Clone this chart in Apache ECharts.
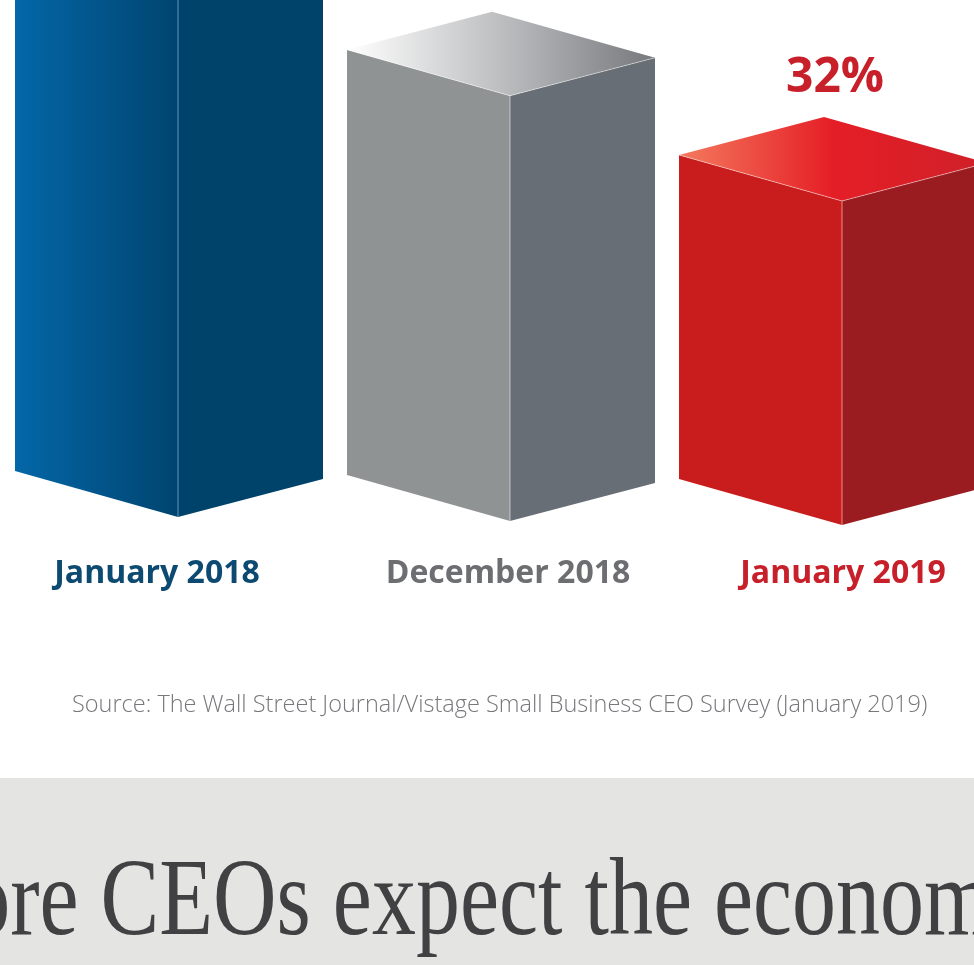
<!DOCTYPE html>
<html>
<head>
<meta charset="utf-8">
<title>Small Business CEO Survey</title>
<script src="https://cdn.jsdelivr.net/npm/echarts@6/dist/echarts.min.js"></script>
<style>
  html, body { margin: 0; padding: 0; background: #ffffff; }
  #chart { width: 974px; height: 965px; }
</style>
</head>
<body>
<div id="chart"></div>
<script>
// Survey periods and the share of CEOs (percent) for each one
const categories = ['January 2018', 'December 2018', 'January 2019'];
const shares = [57, 42, 32];
const sourceNote = 'Source: The Wall Street Journal/Vistage Small Business CEO Survey (January 2019)';
const bannerHeadline = 'More CEOs expect the economy';

// Box geometry (pixels): front face width, side face width, and the
// drop/rise of the bottom edges that give the isometric look.
const FRONT_W = 163;
const SIDE_W = 145;
const FRONT_DROP = 46;
const SIDE_RISE = 38;
const TILT = 0.012;

const palette = [
  { label: '#0d4a72', front: ['#0467a8', '#00446f'], side: '#00436a',
    top: ['#1a74b2', '#005a93', '#00446e'], edge: 'rgba(120,170,210,0.8)' },
  { label: '#6d6e71', front: ['#909394', '#909394'], side: '#686e75',
    top: ['#ffffff', '#bdbec0', '#77787c'], edge: 'rgba(255,255,255,0.55)' },
  { label: '#c8202a', front: ['#c91c1c', '#c91c1c'], side: '#9b1c20',
    top: ['#f47a5e', '#e51e26', '#cf2029'], edge: 'rgba(255,190,180,0.7)' }
];

function hGrad(stops) {
  return new echarts.graphic.LinearGradient(0, 0, 1, 0,
    stops.map(function (c, k) { return { offset: k / (stops.length - 1), color: c }; }));
}

// Draws one isometric box per survey period, sized by the y scale.
function renderBox(params, api) {
  const i = params.dataIndex;
  const v = api.value(1);
  const origin = api.coord([api.value(0), 0]);
  const first = api.coord([0, 0]);
  const unit = api.size([0, 1])[1];
  const cx = origin[0];
  const by = origin[1] + (cx - first[0]) * TILT;
  const h = v * unit;
  const c = palette[i];
  const L = cx - FRONT_W;
  const R = cx + SIDE_W;
  const topY = by - h;

  const front = [[L, by - FRONT_DROP], [cx, by], [cx, topY], [L, topY - FRONT_DROP]];
  const side = [[cx, by], [R, by - SIDE_RISE], [R, topY - SIDE_RISE], [cx, topY]];
  const backX = L + (R - cx);
  const backY = topY - FRONT_DROP - SIDE_RISE;
  const top = [[L, topY - FRONT_DROP], [cx, topY], [R, topY - SIDE_RISE], [backX, backY]];

  return {
    type: 'group',
    children: [
      { type: 'polygon', shape: { points: front }, style: { fill: hGrad(c.front) } },
      { type: 'polygon', shape: { points: side }, style: { fill: c.side } },
      { type: 'polygon', shape: { points: top }, style: { fill: hGrad(c.top) } },
      { type: 'polyline', shape: { points: [[cx, by], [cx, topY]] },
        style: { stroke: c.edge, lineWidth: 1, fill: null } },
      { type: 'polyline', shape: { points: [[L, topY - FRONT_DROP], [cx, topY], [R, topY - SIDE_RISE]] },
        style: { stroke: 'rgba(255,255,255,0.45)', lineWidth: 1, fill: null } },
      { type: 'text', x: backX + 11, y: backY - 39,
        style: { text: v + '%', fill: c.label, fontSize: 48, fontWeight: 'bold',
                 fontFamily: 'Open Sans', align: 'center', verticalAlign: 'middle' } }
    ]
  };
}

const labelRich = {};
const labelShift = [42, 4, -2];
palette.forEach(function (c, k) {
  labelRich['c' + k] = {
    color: c.label, fontSize: 32, fontWeight: 'bold', fontFamily: 'Open Sans',
    padding: labelShift[k] >= 0 ? [0, labelShift[k], 0, 0] : [0, 0, 0, -labelShift[k]]
  };
});

const chart = echarts.init(document.getElementById('chart'), null, { renderer: 'canvas' });
chart.setOption({
  animation: false,
  backgroundColor: '#ffffff',
  grid: { left: 12, width: 996, top: 112, height: 405, containLabel: false, outerBoundsMode: 'none' },
  xAxis: {
    type: 'category',
    data: categories,
    axisLine: { show: false },
    axisTick: { show: false },
    splitLine: { show: false },
    axisLabel: {
      interval: 0,
      margin: 57,
      verticalAlign: 'middle',
      formatter: function (value, index) { return '{c' + index + '|' + value + '}'; },
      rich: labelRich
    }
  },
  yAxis: {
    type: 'value', min: 0, max: 40, show: false,
    splitLine: { show: false }
  },
  series: [{
    type: 'custom',
    renderItem: renderBox,
    clip: false,
    data: shares.map(function (s, k) { return [k, s]; })
  }],
  graphic: [
    { type: 'text', x: 72, y: 705,
      style: { text: sourceNote, fill: '#77787b', fontSize: 23.5, fontWeight: 300,
               fontFamily: 'Open Sans', align: 'left', verticalAlign: 'middle' } },
    { type: 'rect', shape: { x: 0, y: 778, width: 974, height: 187 },
      style: { fill: '#e4e5e3' } },
    { type: 'text', x: -112, y: 905, scaleX: 0.8, originX: 0,
      style: { text: bannerHeadline, fill: '#414042', fontSize: 110,
               fontFamily: 'Liberation Serif', align: 'left', verticalAlign: 'middle' } }
  ]
});
</script>
</body>
</html>
